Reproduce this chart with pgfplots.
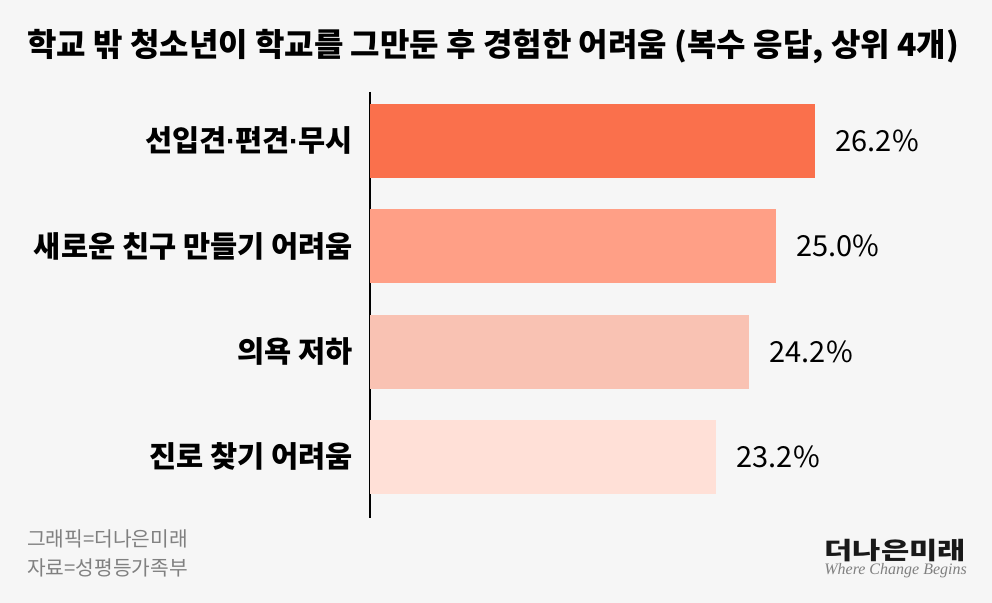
\documentclass[border=0pt]{standalone}
\usepackage{pgfplots}
\pgfplotsset{compat=1.18}
\usepackage{graphicx}
\usepackage{fontspec}
\setmainfont{Noto Sans CJK KR}
\newfontfamily\serifit{Liberation Serif}
\newfontfamily\latinsans{Liberation Sans}
\newcommand{\md}{{\latinsans\bfseries\kern-0.5bp·\kern-0.5bp}}
\definecolor{bgc}{HTML}{F6F6F6}
\definecolor{barA}{HTML}{FA704C}
\definecolor{barB}{HTML}{FF9F86}
\definecolor{barC}{HTML}{F9C2B3}
\definecolor{barD}{HTML}{FFE0D7}
\definecolor{footgray}{HTML}{808080}
\begin{document}
\begin{tikzpicture}[x=1bp,y=1bp]
\fill[bgc] (0,0) rectangle (992,603);
\useasboundingbox (0,0) rectangle (992,603);
\node[anchor=base west, inner sep=0pt, text=black] at (27,546)
  {\fontsize{32bp}{38bp}\selectfont\bfseries 학교 밖 청소년이 학교를 그만둔 후 경험한 어려움 (복수 응답, 상위 4개)};
\begin{axis}[
  at={(370bp,85bp)}, anchor=south west,
  scale only axis, width=622bp, height=426bp,
  xmin=12.7, xmax=31.55, ymin=-0.465, ymax=3.58,
  y dir=reverse,
  xbar, bar width=0.703, bar shift=0pt,
  hide x axis,
  axis y line*=left,
  y axis line style={-, line width=2.5bp, black},
  ytick={0,1,2,3},
  yticklabels={선입견\md 편견\md 무시, 새로운 친구 만들기 어려움, 의욕 저하, 진로 찾기 어려움},
  major tick length=0pt,
  yticklabel style={font=\fontsize{29.5bp}{34bp}\selectfont\bfseries, anchor=east, inner sep=0pt, xshift=-17bp, text=black},
  point meta=explicit symbolic,
  nodes near coords={\pgfplotspointmeta\%},
  nodes near coords style={anchor=west, inner sep=0pt, xshift=20bp, font=\fontsize{29bp}{34bp}\selectfont, text=black},
  clip=false,
]
\addplot[draw=none, fill=barA] coordinates {(26.2,0) [26.2]};
\addplot[draw=none, fill=barB] coordinates {(25.0,1) [25.0]};
\addplot[draw=none, fill=barC] coordinates {(24.2,2) [24.2]};
\addplot[draw=none, fill=barD] coordinates {(23.2,3) [23.2]};
\end{axis}
\node[anchor=base west, inner sep=0pt, text=footgray] at (27,56)
  {\fontsize{20.3bp}{24bp}\selectfont 그래픽=더나은미래};
\node[anchor=base west, inner sep=0pt, text=footgray] at (27,27)
  {\fontsize{20.3bp}{24bp}\selectfont 자료=성평등가족부};
\node[anchor=base east, inner sep=0pt, text=black!90] at (966,43)
  {\scalebox{1.28}[1]{\fontsize{24bp}{28bp}\selectfont\bfseries 더나은미래}};
\node[anchor=base east, inner sep=0pt, text=footgray] at (967,28)
  {\fontsize{16bp}{19bp}\selectfont\serifit\itshape Where Change Begins};
\end{tikzpicture}
\end{document}
